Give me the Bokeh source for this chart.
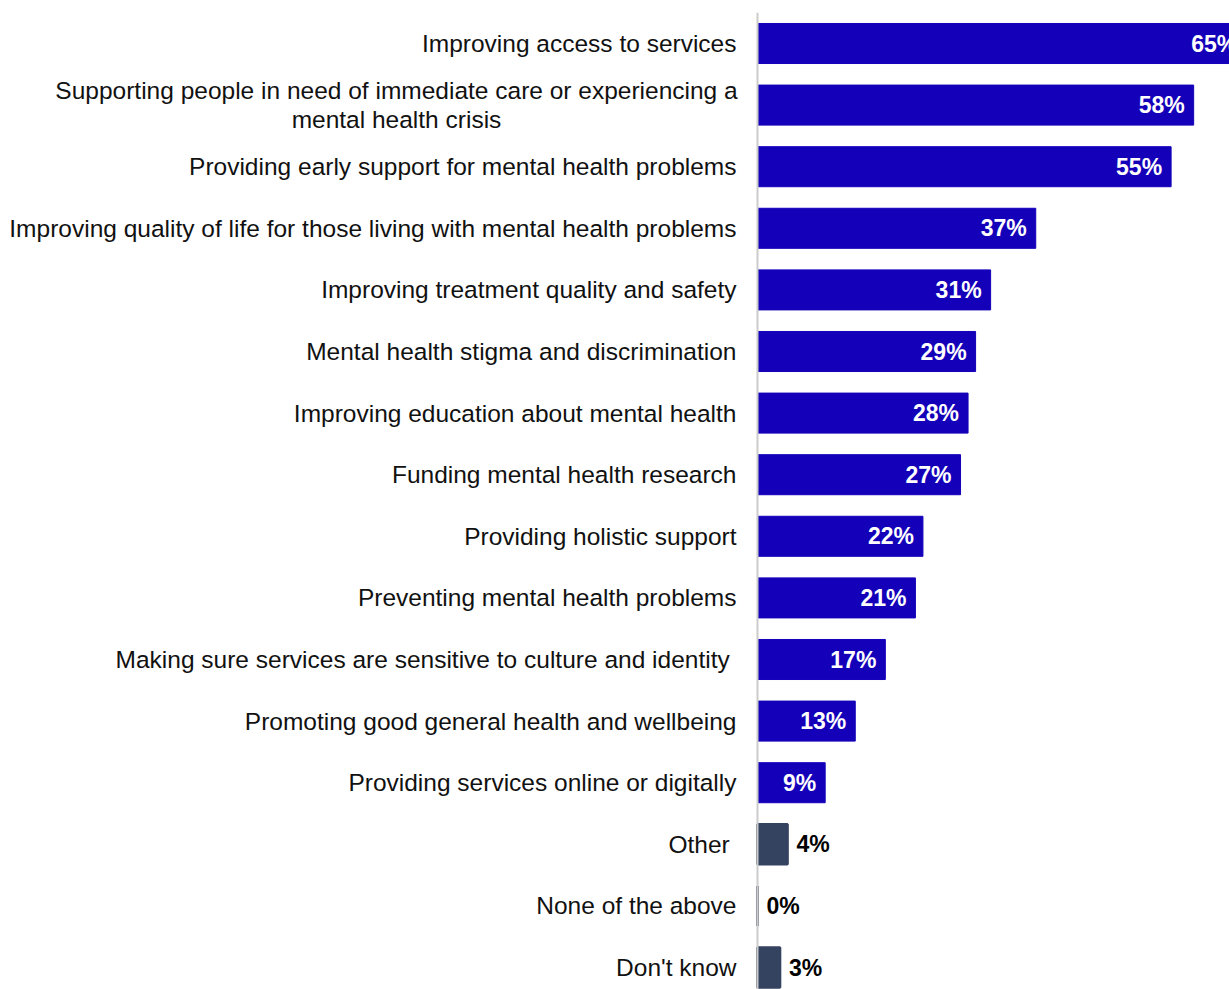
from bokeh.plotting import figure
from bokeh.models import Range1d, ColumnDataSource
from bokeh.core.properties import value
from bokeh.embed import file_html
from bokeh.resources import INLINE

categories = [
    "Improving access to services",
    "Supporting people in need of immediate care or experiencing a\nmental health crisis",
    "Providing early support for mental health problems",
    "Improving quality of life for those living with mental health problems",
    "Improving treatment quality and safety",
    "Mental health stigma and discrimination",
    "Improving education about mental health",
    "Funding mental health research",
    "Providing holistic support",
    "Preventing mental health problems",
    "Making sure services are sensitive to culture and identity ",
    "Promoting good general health and wellbeing",
    "Providing services online or digitally",
    "Other ",
    "None of the above",
    "Don't know",
]
values = [65, 58, 55, 37, 31, 29, 28, 27, 22, 21, 17, 13, 9, 4, 0, 3]
groups = ["main"] * 13 + ["other"] * 3

BLUE = "#1400B9"
DARK = "#344360"

W, H = 1229, 989
PXPCT = 7.52
X0 = 757  # figure px of zero
ROW = 61.6
TOP = 43  # figure px of first row center

x_start = -X0 / PXPCT
x_end = (W - X0) / PXPCT
y_top = -TOP / ROW
y_bot = (H - TOP) / ROW

p = figure(width=W, height=H, output_backend="svg", toolbar_location=None,
           x_range=Range1d(x_start, x_end), y_range=Range1d(y_bot, y_top),
           min_border=0, outline_line_color=None)
p.xaxis.visible = False
p.yaxis.visible = False
p.xgrid.visible = False
p.ygrid.visible = False

ys = list(range(len(categories)))
main_idx = [i for i, g in enumerate(groups) if g == "main"]
oth_idx = [i for i, g in enumerate(groups) if g == "other"]

main = ColumnDataSource(dict(y=[ys[i] for i in main_idx], v=[values[i] for i in main_idx],
                             lab=[f"{values[i]}%" for i in main_idx]))
oth = ColumnDataSource(dict(y=[ys[i] for i in oth_idx], v=[values[i] for i in oth_idx],
                            lab=[f"{values[i]}%" for i in oth_idx]))

p.hbar(y="y", left=0, right="v", height=0.65, source=main, fill_color=BLUE,
       line_color=BLUE, line_width=1)
p.hbar(y="y", left=0, right="v", height=0.65, source=oth, fill_color=DARK,
       line_color=DARK, line_width=2.5)

# axis line
p.segment(x0=[0], y0=[y_top + 0.2], x1=[0], y1=[y_bot + 1], line_color="#cccccc", line_width=2)

FONT = value("Liberation Sans")
p.text(x="v", y="y", text="lab", source=main, text_align="right", text_baseline="middle",
       x_offset=-9, text_color="white", text_font=FONT, text_font_size="23px",
       text_font_style="bold")
p.text(x="v", y="y", text="lab", source=oth, text_align="left", text_baseline="middle",
       x_offset=9, text_color="black", text_font=FONT, text_font_size="23px",
       text_font_style="bold")

# category labels
single = [i for i, c in enumerate(categories) if "\n" not in c]
multi = [i for i, c in enumerate(categories) if "\n" in c]
lab_x = -21 / PXPCT
p.text(x=[lab_x] * len(single), y=[ys[i] for i in single], text=[categories[i] for i in single],
       text_align="right", text_baseline="middle", text_color="#111111",
       text_font=FONT, text_font_size="24.5px")
p.text(x=[lab_x] * len(multi), y=[ys[i] for i in multi], text=[categories[i] for i in multi],
       text_align="center", text_baseline="middle", text_color="#111111", x_offset=-340,
       text_font=FONT, text_font_size="24.5px", text_line_height=1.05)

open("out.html", "w").write(file_html(p, INLINE))
